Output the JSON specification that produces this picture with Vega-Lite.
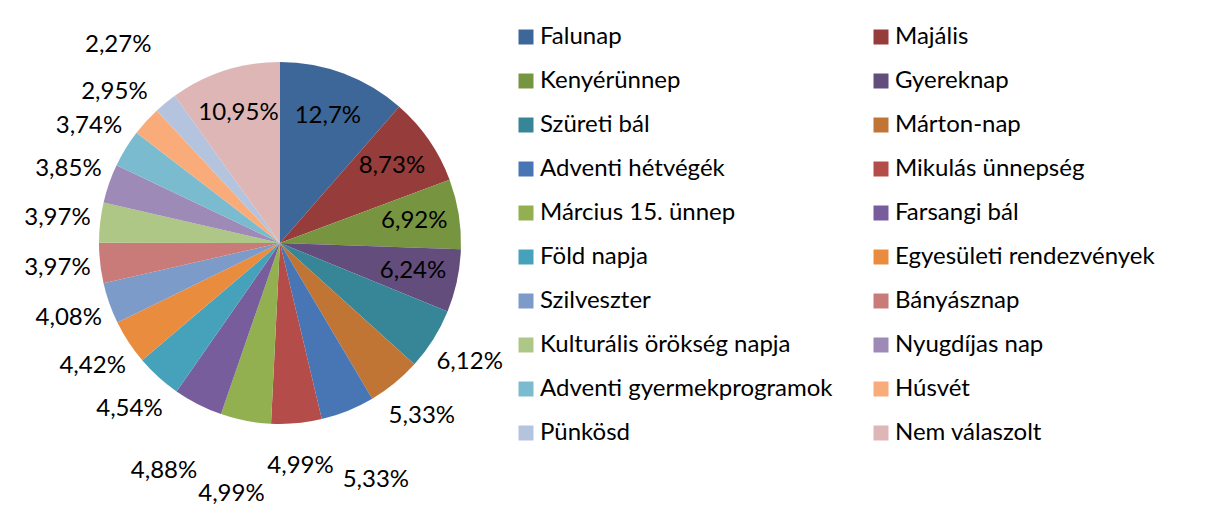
{
  "$schema": "https://vega.github.io/schema/vega-lite/v6.json",
  "autosize": {"type": "none"},
  "width": 546,
  "height": 462,
  "padding": {"left": 7, "top": 12, "right": 653, "bottom": 54},
  "background": "white",
  "config": {"view": {"stroke": null}, "font": "Lato"},
  "data": {"values": [
    {"i": 1, "category": "Falunap", "value": 12.7, "label": "12,7%"},
    {"i": 2, "category": "Majális", "value": 8.73, "label": "8,73%"},
    {"i": 3, "category": "Kenyérünnep", "value": 6.92, "label": "6,92%"},
    {"i": 4, "category": "Gyereknap", "value": 6.24, "label": "6,24%"},
    {"i": 5, "category": "Szüreti bál", "value": 6.12, "label": "6,12%"},
    {"i": 6, "category": "Márton-nap", "value": 5.33, "label": "5,33%"},
    {"i": 7, "category": "Adventi hétvégék", "value": 5.33, "label": "5,33%"},
    {"i": 8, "category": "Mikulás ünnepség", "value": 4.99, "label": "4,99%"},
    {"i": 9, "category": "Március 15. ünnep", "value": 4.99, "label": "4,99%"},
    {"i": 10, "category": "Farsangi bál", "value": 4.88, "label": "4,88%"},
    {"i": 11, "category": "Föld napja", "value": 4.54, "label": "4,54%"},
    {"i": 12, "category": "Egyesületi rendezvények", "value": 4.42, "label": "4,42%"},
    {"i": 13, "category": "Szilveszter", "value": 4.08, "label": "4,08%"},
    {"i": 14, "category": "Bányásznap", "value": 3.97, "label": "3,97%"},
    {"i": 15, "category": "Kulturális örökség napja", "value": 3.97, "label": "3,97%"},
    {"i": 16, "category": "Nyugdíjas nap", "value": 3.85, "label": "3,85%"},
    {"i": 17, "category": "Adventi gyermekprogramok", "value": 3.74, "label": "3,74%"},
    {"i": 18, "category": "Húsvét", "value": 2.95, "label": "2,95%"},
    {"i": 19, "category": "Pünkösd", "value": 2.27, "label": "2,27%"},
    {"i": 20, "category": "Nem válaszolt", "value": 10.95, "label": "10,95%"}
  ]},
  "encoding": {
    "theta": {"field": "value", "type": "quantitative", "stack": true},
    "order": {"field": "i", "type": "quantitative"}
  },
  "layer": [
    {
      "mark": {"type": "arc", "outerRadius": 181, "strokeWidth": 0},
      "encoding": {
        "color": {
          "field": "category",
          "type": "nominal",
          "sort": null,
          "scale": {
            "domain": ["Falunap", "Majális", "Kenyérünnep", "Gyereknap", "Szüreti bál", "Márton-nap", "Adventi hétvégék", "Mikulás ünnepség", "Március 15. ünnep", "Farsangi bál", "Föld napja", "Egyesületi rendezvények", "Szilveszter", "Bányásznap", "Kulturális örökség napja", "Nyugdíjas nap", "Adventi gyermekprogramok", "Húsvét", "Pünkösd", "Nem válaszolt"],
            "range": ["#3D6699", "#963C3A", "#779541", "#634D7D", "#378697", "#C17534", "#4876B4", "#B44C49", "#93B050", "#775D9C", "#46A2BA", "#EA8C3E", "#7C9BC8", "#C87B79", "#AEC686", "#9E8AB6", "#7BBBCF", "#F9AC79", "#B4C3DE", "#DDB6B5"]
          },
          "legend": {
            "orient": "none",
            "legendX": 507,
            "legendY": 13,
            "title": null,
            "columns": 2,
            "direction": "horizontal",
            "padding": 0,
            "symbolType": "square",
            "symbolSize": 225,
            "symbolStrokeWidth": 0,
            "symbolOpacity": 1,
            "labelFont": "Lato",
            "labelFontSize": 24,
            "labelColor": "#000000",
            "labelOffset": 2,
            "labelLimit": 500,
            "rowPadding": 20,
            "columnPadding": 36
          }
        }
      }
    },
    {
      "mark": {"type": "text", "radius": 136, "font": "Lato", "fontSize": 24, "color": "#000000"},
      "encoding": {
        "text": {"condition": {"test": "datum.value > 6.2", "field": "label"}, "value": ""}
      }
    },
    {
      "mark": {"type": "text", "radius": 224, "font": "Lato", "fontSize": 24, "color": "#000000"},
      "encoding": {
        "text": {"condition": {"test": "datum.value <= 6.2 && indexof(['Adventi hétvégék','Március 15. ünnep','Farsangi bál','Pünkösd'], datum.category) < 0", "field": "label"}, "value": ""}
      }
    },
    {
      "mark": {"type": "text", "radius": 256, "font": "Lato", "fontSize": 24, "color": "#000000"},
      "encoding": {
        "text": {"condition": {"test": "indexof(['Adventi hétvégék','Március 15. ünnep','Farsangi bál','Pünkösd'], datum.category) >= 0", "field": "label"}, "value": ""}
      }
    }
  ]
}
